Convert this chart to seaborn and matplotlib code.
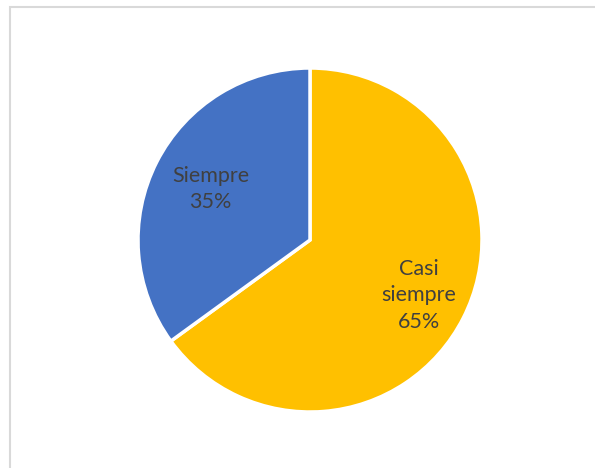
import numpy as np
import matplotlib
matplotlib.use("Agg")
import matplotlib.pyplot as plt
import seaborn as sns

# Datos del gráfico
categorias = ["Casi\nsiempre", "Siempre"]
porcentajes = [65, 35]
colores = ["#FFC000", "#4472C4"]

sns.set_theme(style="white")
plt.rcParams['font.family'] = ['Lato', 'DejaVu Sans']

fig = plt.figure(figsize=(5.95, 4.68), dpi=100)
ax = fig.add_axes([0, 0, 1, 1])

# Marco del gráfico
marco = plt.Rectangle((10, -20), 620, 481, fill=False, edgecolor="#D9D9D9", linewidth=1.5)
ax.add_patch(marco)

# Pastel
cunas, _ = ax.pie(porcentajes, colors=colores, startangle=90, counterclock=False,
                  center=(310, 228), radius=172,
                  wedgeprops=dict(edgecolor="white", linewidth=2.5))
ax.set_xlim(0, 595)
ax.set_ylim(0, 468)
ax.set_aspect("auto")
ax.axis("off")

# Etiquetas con categoría y porcentaje
distancias = [0.71, 0.65]
for cuna, cat, pct, d in zip(cunas, categorias, porcentajes, distancias):
    ang = np.deg2rad((cuna.theta1 + cuna.theta2) / 2)
    x = 310 + d * 172 * np.cos(ang)
    y = 228 + d * 172 * np.sin(ang)
    ax.text(x, y, f"{cat}\n{pct}%", ha="center", va="center", fontsize=15.5,
            color="#404040", linespacing=1.4)

plt.savefig("out.png", dpi=100)
